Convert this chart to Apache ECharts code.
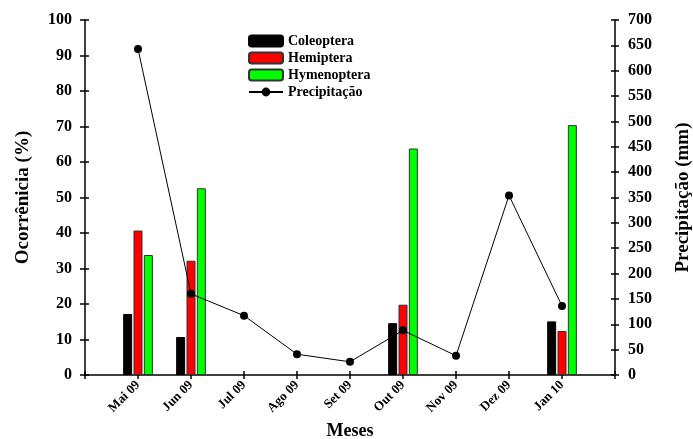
<!DOCTYPE html>
<html>
<head>
<meta charset="utf-8">
<script src="https://cdn.jsdelivr.net/npm/echarts@6/dist/echarts.min.js"></script>
<style>
  html, body { margin: 0; padding: 0; background: #fff; }
  #chart { width: 693px; height: 439px; }
</style>
</head>
<body>
<div id="chart"></div>
<script>
// meses (com posições vazias nas pontas do eixo)
const months = ['Mai 09', 'Jun 09', 'Jul 09', 'Ago 09', 'Set 09', 'Out 09', 'Nov 09', 'Dez 09', 'Jan 10'];
const coleoptera = [17.2, 10.7, null, null, null, 14.6, null, null, 15.1];
const hemiptera = [40.7, 32.2, null, null, null, 19.8, null, null, 12.4];
const hymenoptera = [33.8, 52.6, null, null, null, 63.8, null, null, 70.4];
const precipitacao = [643, 160, 117, 41, 26, 88, 38, 354, 136];

const cats = [''].concat(months, [' ']);
const pad = arr => [null].concat(arr, [null]);

const FONT = '"Liberation Serif", "Times New Roman", serif';
const txt = { color: '#000', fontFamily: FONT, fontWeight: 'bold' };

const chart = echarts.init(document.getElementById('chart'));

const barBase = {
  type: 'bar',
  barWidth: 9,
  barGap: '15%',
  xAxisIndex: 0,
  yAxisIndex: 0
};

const option = {
  animation: false,
  textStyle: { fontFamily: FONT },
  grid: { left: 85, right: 78, top: 20, bottom: 64, outerBoundsMode: 'none', containLabel: false },
  legend: {
    orient: 'vertical',
    left: 243,
    top: 29,
    itemWidth: 34,
    itemHeight: 11,
    itemGap: 3,
    textStyle: Object.assign({ fontSize: 14 }, txt),
    data: ['Coleoptera', 'Hemiptera', 'Hymenoptera', 'Precipitação']
  },
  xAxis: [
    {
      type: 'category',
      data: cats,
      boundaryGap: false,
      name: 'Meses',
      nameLocation: 'middle',
      nameGap: 45,
      nameTextStyle: Object.assign({ fontSize: 18 }, txt),
      axisLine: { lineStyle: { color: '#000', width: 1.5 } },
      axisTick: { length: 4, lineStyle: { color: '#000', width: 1.5 } },
      axisLabel: Object.assign({ fontSize: 13, rotate: 45, margin: 8, interval: 0 }, txt)
    },
    {
      type: 'category',
      data: cats,
      boundaryGap: false,
      position: 'bottom',
      axisLine: { show: false },
      axisTick: { inside: true, length: 4, lineStyle: { color: '#000', width: 1.5 } },
      axisLabel: { show: false }
    }
  ],
  yAxis: [
    {
      type: 'value',
      min: 0, max: 100, interval: 10,
      name: 'Ocorrênicia (%)',
      nameLocation: 'middle',
      nameGap: 52,
      nameTextStyle: Object.assign({ fontSize: 19 }, txt),
      splitLine: { show: false },
      axisLine: { show: true, lineStyle: { color: '#000', width: 1.5 } },
      axisTick: { show: true, length: 5, lineStyle: { color: '#000', width: 1.5 } },
      axisLabel: Object.assign({ fontSize: 16, margin: 13 }, txt)
    },
    {
      type: 'value',
      position: 'right',
      min: 0, max: 700, interval: 50,
      name: 'Precipitação (mm)',
      nameLocation: 'middle',
      nameGap: 59,
      nameTextStyle: Object.assign({ fontSize: 19 }, txt),
      splitLine: { show: false },
      axisLine: { show: true, lineStyle: { color: '#000', width: 1.5 } },
      axisTick: { show: true, length: 4, lineStyle: { color: '#000', width: 1.5 } },
      axisLabel: Object.assign({ fontSize: 16, margin: 13 }, txt)
    },
    {
      type: 'value',
      position: 'left',
      min: 0, max: 100, interval: 10,
      splitLine: { show: false },
      axisLine: { show: false },
      axisTick: { show: true, inside: true, length: 4, lineStyle: { color: '#000', width: 1.5 } },
      axisLabel: { show: false }
    },
    {
      type: 'value',
      position: 'right',
      min: 0, max: 700, interval: 50,
      splitLine: { show: false },
      axisLine: { show: false },
      axisTick: { show: true, inside: true, length: 4, lineStyle: { color: '#000', width: 1.5 } },
      axisLabel: { show: false }
    }
  ],
  series: [
    Object.assign({}, barBase, {
      name: 'Coleoptera',
      itemStyle: { color: '#000', borderColor: '#000', borderWidth: 1 },
      data: pad(coleoptera)
    }),
    Object.assign({}, barBase, {
      name: 'Hemiptera',
      itemStyle: { color: '#ff0000', borderColor: '#333', borderWidth: 1 },
      data: pad(hemiptera)
    }),
    Object.assign({}, barBase, {
      name: 'Hymenoptera',
      itemStyle: { color: '#00ff00', borderColor: '#333', borderWidth: 1 },
      data: pad(hymenoptera)
    }),
    {
      name: 'Precipitação',
      type: 'line',
      xAxisIndex: 0,
      yAxisIndex: 1,
      symbol: 'circle',
      symbolSize: 8,
      connectNulls: false,
      lineStyle: { color: '#000', width: 1 },
      itemStyle: { color: '#000' },
      z: 5,
      data: pad(precipitacao)
    }
  ]
};

chart.setOption(option);
</script>
</body>
</html>
